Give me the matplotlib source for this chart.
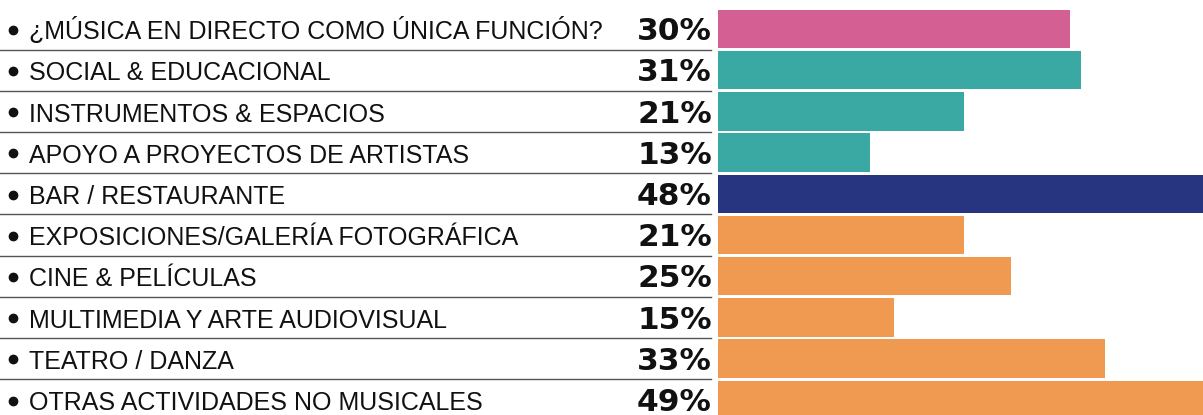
import matplotlib
matplotlib.use("Agg")
import matplotlib.pyplot as plt
from matplotlib.transforms import blended_transform_factory

labels = [
    "¿MÚSICA EN DIRECTO COMO ÚNICA FUNCIÓN?",
    "SOCIAL & EDUCACIONAL",
    "INSTRUMENTOS & ESPACIOS",
    "APOYO A PROYECTOS DE ARTISTAS",
    "BAR / RESTAURANTE",
    "EXPOSICIONES/GALERÍA FOTOGRÁFICA",
    "CINE & PELÍCULAS",
    "MULTIMEDIA Y ARTE AUDIOVISUAL",
    "TEATRO / DANZA",
    "OTRAS ACTIVIDADES NO MUSICALES",
]
values = [30, 31, 21, 13, 48, 21, 25, 15, 33, 49]
groups = ["live", "teal", "teal", "teal", "navy", "orange", "orange", "orange", "orange", "orange"]

colors = {"live": "#D45F93", "teal": "#3BA9A3", "navy": "#273580", "orange": "#EF9A50"}

W, H = 1203, 415
fig = plt.figure(figsize=(W / 100, H / 100), dpi=100)
x0 = 718 / W
ax = fig.add_axes([x0, 0, 1 - x0, 1])

pitch = 41.2
top = 29 / pitch
ax.set_ylim(-top + H / pitch, -top)
ax.set_xlim(0, 485 / 11.72)
ax.axis("off")

ypos = list(range(len(values)))
ax.barh(ypos, values, height=0.935, color=[colors[g] for g in groups])

tr = blended_transform_factory(fig.transFigure, ax.transData)
# bullets
ax.plot([12.5 / W] * len(values), [y + 0.02 for y in ypos], "o", transform=tr,
        color="#111111", ms=6, clip_on=False)
for i, (lab, v) in enumerate(zip(labels, values)):
    ax.text(29 / W, i + 0.25, lab, transform=tr, ha="left", va="baseline",
            fontsize=18, family="Liberation Sans", color="#111111")
    ax.text(712 / W, i + 0.27, f"{v}%", transform=tr, ha="right", va="baseline",
            fontsize=22.5, family="DejaVu Sans", fontweight="bold", color="#111111")
    if i < len(values) - 1:
        ax.plot([0, 711 / W], [i + 0.5, i + 0.5], transform=tr, color="#555555",
                lw=1.0, clip_on=False)

fig.savefig("out.png", dpi=100)
